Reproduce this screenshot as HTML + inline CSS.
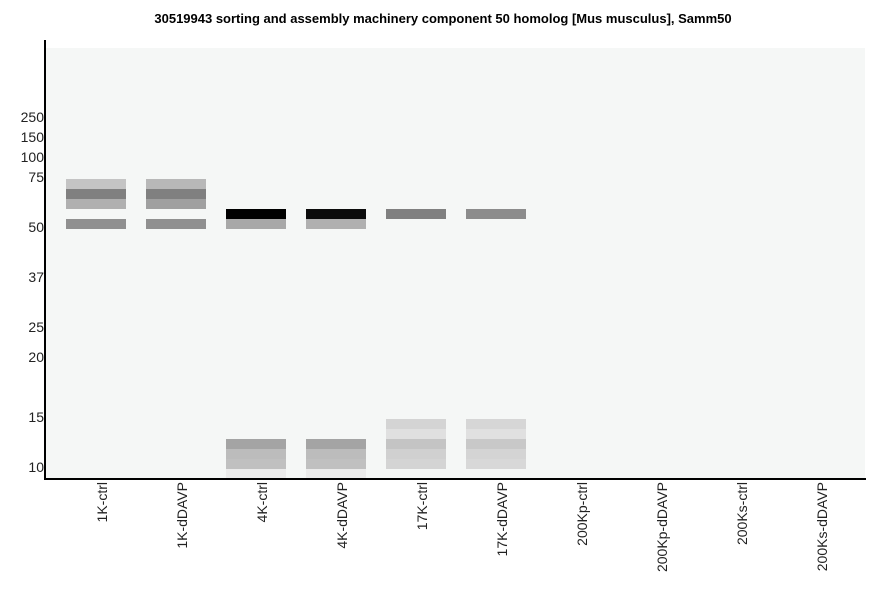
<!DOCTYPE html>
<html><head><style>
body{margin:0;width:886px;height:595px;background:#fff;font-family:"Liberation Sans",sans-serif;position:relative;overflow:hidden}
.t{position:absolute;left:0;width:886px;top:11px;text-align:center;font-weight:bold;font-size:13px}
.bg{position:absolute;left:46px;top:48px;width:819px;height:430px;background:#f5f7f6}
.ax{position:absolute;background:#000}
.b{position:absolute;width:60px;height:10px}
.yl{position:absolute;right:842px;font-size:14px;color:#222;line-height:14px}
.xl{position:absolute;top:482px;font-size:14px;color:#222;writing-mode:vertical-rl;transform:rotate(180deg);white-space:nowrap}
</style></head><body>
<div class="t">30519943 sorting and assembly machinery component 50 homolog [Mus musculus], Samm50</div>
<div class="bg"></div>
<div class="ax" style="left:44px;top:40px;width:2px;height:440px"></div>
<div class="ax" style="left:44px;top:478px;width:822px;height:2px"></div>
<div class="yl" style="top:110px">250</div>
<div class="yl" style="top:130px">150</div>
<div class="yl" style="top:150px">100</div>
<div class="yl" style="top:170px">75</div>
<div class="yl" style="top:220px">50</div>
<div class="yl" style="top:270px">37</div>
<div class="yl" style="top:320px">25</div>
<div class="yl" style="top:350px">20</div>
<div class="yl" style="top:410px">15</div>
<div class="yl" style="top:460px">10</div>

<div class="b" style="left:66px;top:179px;background:#c4c4c4"></div>
<div class="b" style="left:66px;top:189px;background:#808080"></div>
<div class="b" style="left:66px;top:199px;background:#b0b0b0"></div>
<div class="b" style="left:66px;top:219px;background:#909090"></div>
<div class="b" style="left:146px;top:179px;background:#b8b8b8"></div>
<div class="b" style="left:146px;top:189px;background:#808080"></div>
<div class="b" style="left:146px;top:199px;background:#a0a0a0"></div>
<div class="b" style="left:146px;top:219px;background:#909090"></div>
<div class="b" style="left:226px;top:209px;background:#000"></div>
<div class="b" style="left:226px;top:219px;background:#a8a8a8"></div>
<div class="b" style="left:306px;top:209px;background:#0c0c0c"></div>
<div class="b" style="left:306px;top:219px;background:#b0b0b0"></div>
<div class="b" style="left:386px;top:209px;background:#808080"></div>
<div class="b" style="left:466px;top:209px;background:#8c8c8c"></div>

<div class="b" style="left:226px;top:439px;background:#a4a4a4"></div>
<div class="b" style="left:226px;top:449px;background:#bcbcbc"></div>
<div class="b" style="left:226px;top:459px;background:#c0c0c0"></div>
<div class="b" style="left:226px;top:469px;height:9px;background:#ebebeb"></div>
<div class="b" style="left:306px;top:439px;background:#a4a4a4"></div>
<div class="b" style="left:306px;top:449px;background:#bcbcbc"></div>
<div class="b" style="left:306px;top:459px;background:#c0c0c0"></div>
<div class="b" style="left:306px;top:469px;height:9px;background:#ebebeb"></div>
<div class="b" style="left:386px;top:419px;background:#d4d4d4"></div>
<div class="b" style="left:386px;top:429px;background:#e0e0e0"></div>
<div class="b" style="left:386px;top:439px;background:#c4c4c4"></div>
<div class="b" style="left:386px;top:449px;background:#d0d0d0"></div>
<div class="b" style="left:386px;top:459px;background:#d4d4d4"></div>
<div class="b" style="left:466px;top:419px;background:#d6d6d6"></div>
<div class="b" style="left:466px;top:429px;background:#e0e0e0"></div>
<div class="b" style="left:466px;top:439px;background:#c8c8c8"></div>
<div class="b" style="left:466px;top:449px;background:#d4d4d4"></div>
<div class="b" style="left:466px;top:459px;background:#d8d8d8"></div>

<div class="xl" style="left:94px">1K-ctrl</div>
<div class="xl" style="left:174px">1K-dDAVP</div>
<div class="xl" style="left:254px">4K-ctrl</div>
<div class="xl" style="left:334px">4K-dDAVP</div>
<div class="xl" style="left:414px">17K-ctrl</div>
<div class="xl" style="left:494px">17K-dDAVP</div>
<div class="xl" style="left:574px">200Kp-ctrl</div>
<div class="xl" style="left:654px">200Kp-dDAVP</div>
<div class="xl" style="left:734px">200Ks-ctrl</div>
<div class="xl" style="left:814px">200Ks-dDAVP</div>
</body></html>
